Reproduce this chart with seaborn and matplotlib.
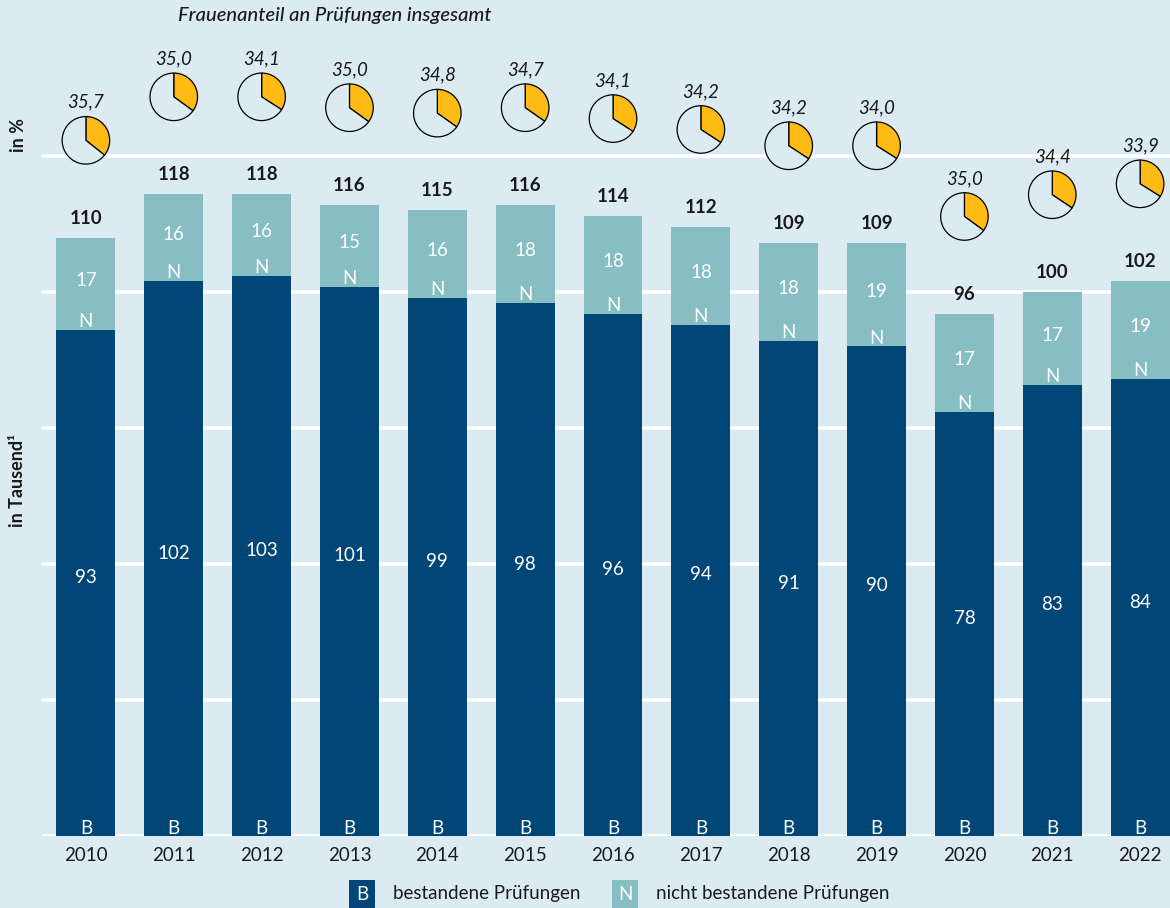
import matplotlib
matplotlib.use("Agg")
import matplotlib.pyplot as plt
import seaborn as sns
import pandas as pd
from matplotlib.patches import Rectangle

# ---------------- data ----------------
years = ["2010", "2011", "2012", "2013", "2014", "2015", "2016",
         "2017", "2018", "2019", "2020", "2021", "2022"]
passed = [93, 102, 103, 101, 99, 98, 96, 94, 91, 90, 78, 83, 84]
failed = [17, 16, 16, 15, 16, 18, 18, 18, 18, 19, 17, 17, 19]
totals = [110, 118, 118, 116, 115, 116, 114, 112, 109, 109, 96, 100, 102]
women_share = [35.7, 35.0, 34.1, 35.0, 34.8, 34.7, 34.1, 34.2, 34.2, 34.0, 35.0, 34.4, 33.9]
grid_values = [0, 25, 50, 75, 100, 125]

title = "Frauenanteil an Prüfungen insgesamt"
legend_labels = ["bestandene Prüfungen", "nicht bestandene Prüfungen"]
legend_letters = ["B", "N"]

# ---------------- style ----------------
BG = "#DCEBF2"
DARK = "#004677"
TEAL = "#86BEC3"
YELLOW = "#FDBB13"
TXT = "#1a1a1a"

sns.set_theme(style="white")
plt.rcParams['font.family'] = ['Lato', 'DejaVu Sans']

W, H = 1170, 908
fig = plt.figure(figsize=(W / 100, H / 100), dpi=100, facecolor=BG)
ax = fig.add_axes([42 / W, 72 / H, 1 - 42 / W, 836 / H])
ax.set_facecolor(BG)

df = pd.DataFrame({"year": years, "passed": passed, "total": totals})

sns.barplot(data=df, x="year", y="total", color=TEAL, saturation=1,
            width=0.67, ax=ax, order=years, linewidth=0, edgecolor="none")
sns.barplot(data=df, x="year", y="passed", color=DARK, saturation=1,
            width=0.67, ax=ax, order=years, linewidth=0, edgecolor="none")

ax.set_xlim(-0.5, 12.34)
ax.set_ylim(0, 153.7)
ax.set_yticks(grid_values)
ax.set_yticklabels([])
ax.grid(axis="y", color="white", linewidth=2.6)
ax.grid(axis="x", visible=False)
ax.set_axisbelow(True)
for s in ax.spines.values():
    s.set_visible(False)
ax.set_xlabel("")
ax.set_ylabel("")
ax.tick_params(axis="x", length=0, pad=8, labelsize=13.5, labelcolor=TXT)
ax.tick_params(axis="y", length=0)

fs = 13.5
for i, (p, f, t, sh) in enumerate(zip(passed, failed, totals, women_share)):
    # dark segment
    ax.text(i, p / 2 + 1, f"{p}", ha="center", va="center", color="white", fontsize=fs)
    ax.text(i, 0.4, "B", ha="center", va="baseline", color="white", fontsize=fs)
    # teal segment
    ax.text(i, (p + t) / 2 + 0.6, f"{f}", ha="center", va="center", color="white", fontsize=fs)
    ax.text(i, p + 0.5, "N", ha="center", va="baseline", color="white", fontsize=fs)
    # total
    ax.text(i, t + 3.6, f"{t}", ha="center", va="center", color=TXT, fontsize=fs,
            fontweight="bold")
    # pie
    cy = t + 17.9
    iax = ax.inset_axes([i - 0.3, cy - 4.5, 0.6, 9.0], transform=ax.transData)
    iax.pie([sh, 100 - sh], startangle=90, counterclock=False,
            colors=[YELLOW, BG],
            wedgeprops=dict(edgecolor="black", linewidth=0.9))
    iax.set_xlim(-1.03, 1.03)
    iax.set_ylim(-1.03, 1.03)
    iax.set_aspect("equal")
    iax.axis("off")
    ax.text(i, cy + 7.0, f"{sh:.1f}".replace(".", ","), ha="center", va="center",
            color=TXT, fontsize=fs, fontstyle="italic")

# titles / axis labels
fig.text(178 / W, 1 - 16 / H, title, ha="left", va="center", fontsize=14.5,
         fontstyle="italic", fontweight="medium", color=TXT)
fig.text(18 / W, 1 - 135 / H, "in %", rotation=90, ha="center", va="center",
         fontsize=13, fontweight="bold", color=TXT)
fig.text(18 / W, 1 - 480 / H, "in Tausend¹", rotation=90, ha="center", va="center",
         fontsize=13, fontweight="bold", color=TXT)

# legend
leg_x = [349, 612]
leg_tx = [393, 656]
for lx, tx, col, letter, lab in zip(leg_x, leg_tx, [DARK, TEAL], legend_letters, legend_labels):
    fig.patches.append(Rectangle((lx / W, 0), 26 / W, 28 / H, transform=fig.transFigure,
                                 facecolor=col, edgecolor="none"))
    fig.text((lx + 13) / W, 1 - 895 / H, letter, ha="center", va="center",
             color="white", fontsize=13.5)
    fig.text(tx / W, 1 - 893 / H, lab, ha="left", va="center", color=TXT, fontsize=13.5)

fig.savefig("out.png", dpi=100, facecolor=BG)
